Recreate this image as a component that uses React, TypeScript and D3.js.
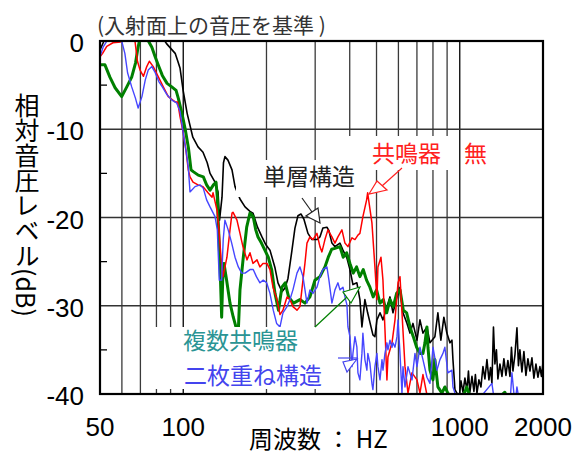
import React, { useEffect, useRef } from 'react';
import * as d3 from 'd3';

// [frequency Hz, relative level dB]
const singleLayer: [number, number][] = [ // 単層構造 (black)
  [50, -1.0], [51.7, 0], [54.3, 1.5], [64.2, 2.5], [75.8, 2.0], [83.8, 0.6], [85.8, 0], [87.0, -0.3],
  [93.5, -1.4], [95.4, -2.2], [97.4, -3.1], [99.9, -5.6], [103.3, -8.2], [108.3, -10.9], [113.1, -12.0],
  [117.9, -12.6], [122.1, -13.8], [125.0, -15.0], [130.3, -16.0], [133.6, -17.1], [135.3, -20.3],
  [138.1, -17.7], [139.8, -13.8], [141.5, -13.1], [145.1, -13.5], [150.1, -14.6], [153.9, -16.5],
  [160.4, -17.9], [167.3, -18.8], [174.3, -19.3], [178.7, -19.5], [185.6, -21.1], [192.6, -22.2],
  [199.0, -23.1], [205.9, -23.7], [214.7, -25.7], [220.1, -27.4], [227.6, -28.4], [233.3, -28.0],
  [239.2, -26.9], [247.3, -23.7], [253.5, -21.2], [259.9, -19.8], [266.5, -19.6], [273.2, -20.2],
  [282.5, -21.8], [292.1, -22.5], [304.5, -22.5], [312.1, -22.2], [319.9, -21.2], [330.9, -21.1],
  [336.4, -21.5], [344.9, -22.9], [353.7, -23.3], [368.7, -22.9], [378.1, -23.7], [390.8, -24.6],
  [400.7, -25.9], [410.9, -27.6], [424.6, -27.4], [435.4, -29.3], [442.8, -32.4], [453.9, -29.3],
  [464.4, -30.8], [485.2, -33.3], [493.4, -33.5], [501.7, -31.6], [514.7, -30.8], [527.7, -31.6],
  [545.3, -30.1], [559.3, -29.0], [573.5, -30.8], [592.9, -29.0], [607.9, -27.9], [623.3, -30.8],
  [644.5, -32.0], [660.6, -33.1], [677.3, -32.0], [700.3, -33.9], [717.9, -31.6], [736.0, -33.1],
  [760.9, -32.4], [780.2, -34.2], [813.0, -33.5], [833.5, -30.8], [854.5, -33.9], [876.1, -31.3],
  [898.2, -33.1], [921.5, -34.2], [937.0, -33.9], [944.8, -36.1], [960.7, -39.5], [976.8, -39.9],
  [993.3, -40.7], [1010, -38.5], [1027, -39.8], [1044, -38.2], [1062, -39.6], [1075, -37.4],
  [1088, -39.8], [1107, -38.0], [1125, -39.7], [1139, -37.8], [1154, -39.9], [1173, -38.4],
  [1193, -39.2], [1213, -36.9], [1233, -38.3], [1254, -36.1], [1275, -38.4], [1292, -37.0],
  [1307, -38.8], [1324, -32.4], [1340, -36.6], [1357, -35.0], [1374, -38.3], [1397, -36.6],
  [1421, -38.0], [1444, -36.0], [1469, -37.9], [1493, -36.2], [1519, -38.0], [1538, -34.7],
  [1557, -37.4], [1584, -35.5], [1610, -32.5], [1630, -36.8], [1650, -35.0], [1678, -37.5],
  [1706, -35.2], [1735, -37.9], [1764, -36.0], [1794, -37.4], [1824, -35.9], [1854, -38.2],
  [1886, -36.6], [1917, -38.1], [1949, -36.9], [1974, -38.0], [2000, -36.4],
];

const noResonator: [number, number][] = [ // 共鳴器 無 (red)
  [50, -1.8], [51.1, -1.4], [52.9, -0.6], [55.7, -0.2], [59.3, -0.1], [61.5, 0.6], [64.2, 1.0],
  [66.9, 0], [68.3, -2.3], [69.8, -3.3], [71.8, -4.0], [73.8, -2.9], [75.4, -2.3], [77.9, -2.9],
  [81.1, -4.0], [84.7, -5.2], [88.3, -6.3], [90.9, -6.6], [93.5, -6.9], [95.4, -6.9], [97.4, -8.6],
  [100.1, -10.5], [102.3, -12.4], [104.3, -14.6], [105.8, -15.4], [108.5, -16.0], [113.1, -16.3],
  [117.9, -16.5], [122.9, -17.2], [127.1, -17.7], [128.2, -17.2], [132.5, -19.2], [134.7, -21.4],
  [136.9, -24.5], [139.2, -26.7], [143.9, -24.5], [147.6, -21.4], [150.1, -19.5], [151.3, -19.4],
  [156.4, -20.3], [160.4, -21.8], [164.4, -23.3], [170.0, -24.8], [174.3, -24.0], [178.7, -25.2],
  [184.8, -24.8], [189.4, -25.6], [194.2, -25.2], [200.8, -25.2], [205.9, -25.9], [211.1, -27.9],
  [218.3, -29.3], [223.8, -31.0], [229.4, -30.5], [237.3, -29.0], [243.2, -29.3], [249.3, -30.1],
  [257.8, -30.5], [264.3, -30.1], [271.0, -27.1], [275.5, -25.2], [280.2, -22.9], [287.2, -22.2],
  [294.5, -22.5], [304.5, -21.8], [312.1, -23.3], [317.4, -23.9], [325.4, -22.5], [333.6, -21.4],
  [344.9, -22.2], [353.7, -22.9], [362.6, -22.2], [374.9, -21.4], [384.4, -22.9], [394.1, -23.3],
  [407.5, -22.3], [417.8, -22.5], [428.3, -22.0], [435.4, -21.8], [446.4, -19.9], [460.5, -18.0],
  [464.4, -17.2], [481.2, -20.6], [493.4, -25.6], [501.7, -29.3], [505.9, -25.6], [518.9, -24.5],
  [527.5, -27.1], [536.4, -32.7], [545.3, -38.4], [549.9, -35.8], [568.8, -34.2], [583.2, -31.6],
  [598.0, -27.4], [607.9, -26.7], [618.1, -30.8], [633.8, -36.9], [649.9, -39.9], [671.7, -37.6],
  [700.3, -38.4], [717.9, -39.9], [736.0, -37.8], [760.9, -40.1], [780.2, -41.5], [813, -43],
  [848, -41], [900, -44],
];

const multiResonator: [number, number][] = [ // 複数共鳴器 (green)
  [50, -2.7], [52.1, -2.7], [54.3, -4.1], [56.7, -5.3], [59.9, -6.3], [62.5, -5.2], [65.1, -4.1],
  [67.2, -2.5], [68.4, -1.0], [69.4, 0], [72.4, 0.8], [74.8, 0], [77.0, -0.7], [79.2, -1.8],
  [81.6, -2.9], [84.0, -3.9], [87.4, -4.8], [90.9, -5.2], [94.2, -5.6], [96.0, -6.5], [98.9, -8.2],
  [101.8, -10.1], [104.4, -12.1], [106.7, -14.6], [108.7, -14.8], [113.3, -15.2], [118.2, -15.4],
  [121.5, -16.3], [125.0, -16.9], [128.6, -16.3], [131.4, -16.0], [132.8, -17.7], [133.9, -20.6],
  [135.8, -25.2], [137.7, -31.3], [138.9, -27.1], [140.4, -25.2], [143.5, -27.1], [147.6, -29.7],
  [151.7, -31.3], [155.1, -32.4], [157.7, -33.9], [160.4, -28.2], [164.9, -24.5], [169.6, -21.1],
  [174.3, -19.5], [179.1, -19.9], [182.9, -21.4], [186.4, -22.2], [191.8, -22.9], [197.3, -23.7],
  [203.0, -24.5], [208.8, -25.9], [214.7, -28.6], [221.0, -30.5], [227.4, -27.9], [233.7, -27.4],
  [240.4, -29.0], [250.5, -29.7], [264.3, -29.3], [275.5, -29.7], [287.2, -29.0], [299.4, -27.1],
  [312.1, -26.7], [325.4, -25.6], [334.6, -24.5], [344.2, -23.6], [353.7, -23.5], [368.7, -23.3],
  [379.0, -24.5], [389.8, -24.0], [400.7, -25.2], [411.9, -26.3], [423.5, -25.6], [435.4, -26.7],
  [447.6, -25.9], [460.2, -27.1], [473.2, -27.9], [486.5, -29.0], [500.2, -28.2], [514.7, -29.7],
  [529.1, -29.3], [544.0, -30.8], [559.3, -29.3], [575.0, -30.1], [591.2, -28.6], [607.9, -28.2],
  [625.0, -30.5], [642.5, -30.8], [660.6, -32.4], [679.2, -33.5], [698.3, -34.7], [717.9, -35.4],
  [736.0, -35.4], [748.4, -34.2], [760.9, -32.4], [767.3, -34.7], [780.2, -37.3], [800.0, -38.4],
  [813.0, -36.1], [833.5, -39.2], [862.0, -39.9], [883.5, -39.2], [905.7, -39.9], [937, -40.7],
  [1001.6, -41.2], [1060, -39.2], [1106.8, -40.9], [1285.7, -41.3], [1456, -39.8], [1518.6, -41.2],
];

const doubleLayer: [number, number][] = [ // 二枚重ね構造 (blue)
  [50, -1.8], [51.3, -0.7], [53.0, 0], [55.2, 1.5], [58.0, 1.0], [59.9, 0], [61.5, -1.4], [62.9, -3.6],
  [65.1, -5.2], [67.2, -6.5], [68.7, -7.6], [70.9, -6.3], [72.9, -4.4], [74.7, -3.3], [77.0, -2.9],
  [79.2, -3.6], [81.6, -4.6], [84.0, -5.2], [87.4, -6.1], [90.9, -6.7], [94.6, -7.0], [97.4, -8.0],
  [99.6, -10.1], [102.3, -12.4], [104.3, -14.3], [105.8, -17.1], [110.3, -16.5], [115.0, -16.3],
  [118.2, -16.7], [121.5, -18.0], [125.0, -18.8], [130.3, -19.9], [132.8, -21.4], [135.0, -27.1],
  [137.7, -27.1], [139.5, -22.5], [141.5, -20.3], [145.4, -21.4], [149.7, -22.9], [153.9, -24.5],
  [158.2, -25.6], [162.7, -26.3], [167.3, -26.3], [174.3, -25.9], [179.1, -25.9], [183.9, -26.7],
  [189.4, -27.4], [194.7, -27.1], [200.3, -27.4], [205.9, -28.6], [211.6, -30.5], [217.6, -32.0],
  [223.8, -32.4], [229.4, -30.8], [237.3, -30.1], [243.2, -29.3], [249.3, -28.2], [257.8, -26.3],
  [264.3, -25.6], [271.0, -26.7], [280.2, -29.7], [287.2, -28.2], [294.5, -28.6], [304.5, -27.9],
  [312.1, -26.7], [319.9, -25.9], [330.9, -25.6], [336.4, -27.1], [344.9, -29.7], [353.7, -28.2],
  [362.6, -27.4], [368.7, -28.2], [378.1, -27.9], [384.4, -29.0], [390.8, -29.9], [394.1, -32.4],
  [400.7, -33.5], [407.5, -36.9], [410.9, -35.4], [417.8, -33.5], [424.6, -34.7], [428.3, -37.6],
  [435.4, -38.4], [442.8, -35.4], [446.4, -33.1], [453.9, -36.1], [461.5, -37.3], [465.2, -35.4],
  [473.2, -36.5], [481.2, -38.8], [485.2, -39.5], [493.4, -36.9], [501.7, -35.4], [505.9, -36.9],
  [514.7, -38.4], [523.3, -36.1], [527.7, -37.3], [536.4, -35.4], [545.3, -34.2], [549.9, -35.0],
  [559.3, -33.9], [568.8, -34.7], [573.5, -34.2], [583.2, -34.7], [592.9, -33.5], [598.0, -31.6],
  [607.9, -35.4], [618.1, -39.9], [623.3, -36.9], [633.8, -39.2], [649.9, -36.9], [671.7, -38.4],
  [688.7, -35.4], [700.3, -36.9], [717.9, -34.7], [736.0, -36.1], [760.9, -38.1], [780.2, -38.8],
  [800.0, -34.7], [827.0, -37.3], [848.0, -36.1], [869.4, -35.4], [883.5, -34.7], [905.7, -37.6],
  [937.0, -37.3], [944.8, -39.2], [960.7, -39.9], [985, -41.2], [1088.5, -41.8], [1307, -38.8],
  [1340, -41.2], [1518.6, -41.2], [1544.2, -37.6], [1583.7, -41.2], [1609.7, -39.2], [1650.4, -41.2],
];

const xTickValues = [50, 100, 1000, 2000];
const yTickValues = [0, -10, -20, -30, -40];
const xGridValues = [60, 70, 80, 90, 100, 200, 300, 400, 500, 600, 700, 800, 900, 1000];
const yGridValues = [-10, -20, -30];
const yMinorValues = [-5, -15, -25, -35];

const App = () => {
  const chartRef = useRef<SVGSVGElement>(null);

  useEffect(() => {
    const svg = d3.select(chartRef.current);
    svg.selectAll('*').remove();

    const left = 100, right = 543, top = 41, bottom = 394;
    const x = d3.scaleLog().domain([50, 2000]).range([left, right]);
    const y = d3.scaleLinear().domain([-40, 0]).range([bottom, top]);
    const jp = '"Noto Sans CJK JP", sans-serif';
    const num = '"Liberation Sans", Arial, sans-serif';

    svg.append('rect').attr('width', 575).attr('height', 456).attr('fill', '#fff');

    // grid
    svg.append('g').selectAll('line').data(xGridValues).enter().append('line')
      .attr('x1', d => x(d)).attr('x2', d => x(d))
      .attr('y1', top).attr('y2', bottom)
      .attr('stroke', d => (d === 100 || d === 1000 ? '#000' : '#3a3a3a'))
      .attr('stroke-width', 1.3);
    svg.append('g').selectAll('line').data(yGridValues).enter().append('line')
      .attr('x1', left).attr('x2', right)
      .attr('y1', d => y(d)).attr('y2', d => y(d))
      .attr('stroke', '#333').attr('stroke-width', 1.4);
    svg.append('g').selectAll('line').data(yMinorValues).enter().append('line')
      .attr('x1', left).attr('x2', left + 7)
      .attr('y1', d => y(d)).attr('y2', d => y(d))
      .attr('stroke', '#000').attr('stroke-width', 1.3);

    // lines
    svg.append('defs').append('clipPath').attr('id', 'plotArea')
      .append('rect').attr('x', left).attr('y', top)
      .attr('width', right - left).attr('height', bottom - top);

    const line = d3.line<[number, number]>().x(d => x(d[0])).y(d => y(d[1]));
    const series = [
      { data: singleLayer, color: '#000', width: 1.6 },
      { data: multiResonator, color: '#008000', width: 3 },
      { data: noResonator, color: '#ff0000', width: 1.5 },
      { data: doubleLayer, color: '#4646ff', width: 1.4 },
    ];
    const plot = svg.append('g').attr('clip-path', 'url(#plotArea)');
    series.forEach(s => {
      plot.append('path').datum(s.data)
        .attr('d', line)
        .attr('fill', 'none')
        .attr('stroke', s.color)
        .attr('stroke-width', s.width)
        .attr('stroke-linejoin', 'round');
    });

    // white label boxes
    const boxes = [
      [236, 160, 122, 37],
      [342, 136, 114, 34],
      [148, 327, 188, 62],
    ];
    svg.append('g').selectAll('rect').data(boxes).enter().append('rect')
      .attr('x', d => d[0]).attr('y', d => d[1])
      .attr('width', d => d[2]).attr('height', d => d[3])
      .attr('fill', '#fff');

    // frame
    svg.append('rect')
      .attr('x', left).attr('y', top)
      .attr('width', right - left).attr('height', bottom - top)
      .attr('fill', 'none').attr('stroke', '#000').attr('stroke-width', 2.2);

    // tick labels
    svg.append('g').selectAll('text').data(yTickValues).enter().append('text')
      .attr('x', 84).attr('y', d => y(d) + 11)
      .attr('text-anchor', 'end')
      .attr('font-family', num).attr('font-size', 26)
      .text(d => String(d));
    svg.append('g').selectAll('text').data(xTickValues).enter().append('text')
      .attr('x', d => x(d)).attr('y', 436)
      .attr('text-anchor', 'middle')
      .attr('font-family', num).attr('font-size', 26)
      .text(d => String(d));

    // titles
    svg.append('text')
      .attr('x', 27).attr('y', 93)
      .attr('font-family', jp).attr('font-size', 25)
      .style('writing-mode', 'vertical-rl')
      .text('相対音圧レベル(dB)');
    svg.append('text')
      .attr('x', 249).attr('y', 448)
      .attr('font-family', jp).attr('font-size', 24)
      .text('周波数 ： HZ');
    svg.append('text')
      .attr('x', 97).attr('y', 33)
      .attr('font-family', jp).attr('font-size', 21).attr('fill', '#333')
      .text('(入射面上の音圧を基準 )');

    // annotations
    const notes = [
      { text: '単層構造', x: 263, y: 185, color: '#222' },
      { text: '共鳴器　無', x: 372, y: 162, color: '#ff2020' },
      { text: '複数共鳴器', x: 183, y: 349, color: '#2a9494' },
      { text: '二枚重ね構造', x: 184, y: 384, color: '#4444ee' },
    ];
    svg.append('g').selectAll('text').data(notes).enter().append('text')
      .attr('x', d => d.x).attr('y', d => d.y)
      .attr('font-family', jp).attr('font-size', 23)
      .attr('fill', d => d.color)
      .text(d => d.text);

    const arrows = [
      { from: [302, 198], to: [312, 212], head: [[320, 223], [306, 216], [318, 208]], color: '#222' },
      { from: [402, 168], to: [382, 186], head: [[369, 194], [377, 181], [387, 190]], color: '#ff2020' },
      { from: [315, 327], to: [347, 297], head: [[360, 287], [343, 292], [351, 303]], color: '#008000' },
      { from: [338, 358], to: [357, 358], head: [[357, 359], [343, 362], [347, 372]], color: '#4444ee' },
    ];
    const ag = svg.append('g');
    arrows.forEach(a => {
      ag.append('line')
        .attr('x1', a.from[0]).attr('y1', a.from[1])
        .attr('x2', a.to[0]).attr('y2', a.to[1])
        .attr('stroke', a.color).attr('stroke-width', 1.2);
      ag.append('polygon')
        .attr('points', a.head.map(p => p.join(',')).join(' '))
        .attr('fill', '#fff').attr('stroke', a.color).attr('stroke-width', 1.2);
    });
  }, []);

  return (
    <svg ref={chartRef} width={575} height={456}
      style={{ position: 'absolute', left: 0, top: 0 }} />
  );
};

export default App;
